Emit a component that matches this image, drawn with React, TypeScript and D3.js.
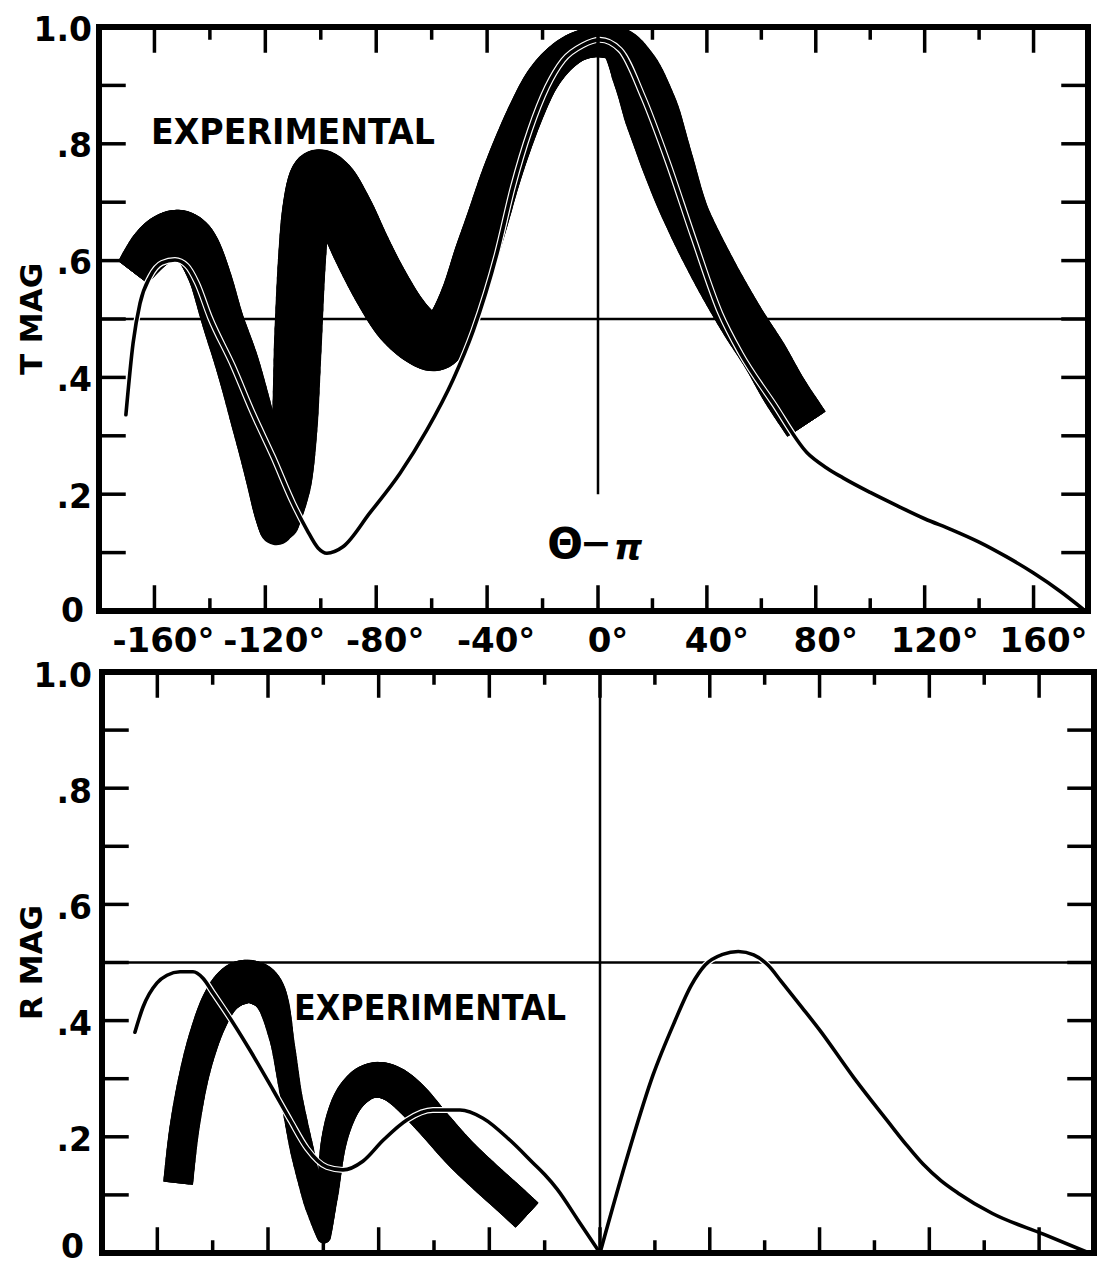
import * as d3 from "d3";

type Pt = [number, number];

// x: Θ − π in degrees, y: magnitude
const degTicks = d3.range(-160, 161, 20);
const degLabels = [-160, -120, -80, -40, 0, 40, 80, 120, 160];
const magTicks = [0.1, 0.2, 0.3, 0.4, 0.5, 0.6, 0.7, 0.8, 0.9];
const magLabels: [number, string][] = [
  [0, "0"],
  [0.2, ".2"],
  [0.4, ".4"],
  [0.6, ".6"],
  [0.8, ".8"],
  [1, "1.0"],
];

// T MAG, theory
const tTheory: Pt[] = [
  [-170.3, 0.336], [-167.7, 0.459], [-165.2, 0.527], [-161.6, 0.572], [-157.3, 0.596],
  [-152.6, 0.601], [-148.3, 0.591], [-144.7, 0.562], [-140.0, 0.503], [-131.7, 0.42],
  [-124.5, 0.339], [-117.2, 0.264], [-110.0, 0.185], [-105.0, 0.139], [-101.0, 0.108],
  [-97.8, 0.099], [-92.0, 0.11], [-82.3, 0.168], [-71.4, 0.236], [-61.7, 0.31],
  [-52.3, 0.396], [-45.0, 0.48], [-36.4, 0.613], [-30.7, 0.726], [-24.5, 0.824],
  [-18.4, 0.897], [-12.6, 0.943], [-5.4, 0.969], [0.7, 0.978], [8.1, 0.961],
  [16.6, 0.88], [25.4, 0.772], [35.0, 0.64], [44.9, 0.51], [52.3, 0.442],
  [64.4, 0.356], [76.8, 0.271], [84, 0.245], [90, 0.228], [100, 0.203], [110, 0.18],
  [120, 0.158], [130, 0.139], [140, 0.118], [150, 0.093], [160, 0.065],
  [170, 0.033], [178, 0.004],
];

// T MAG, experimental band centre line (two strokes, split at the sharp turn)
const tBandA: Pt[] = [
  [-167.7, 0.58], [-161.6, 0.618], [-156.2, 0.639], [-150.8, 0.644], [-145.4, 0.627],
  [-140.2, 0.575], [-135.4, 0.498], [-130.0, 0.421], [-124.6, 0.327], [-120.2, 0.241],
  [-117.6, 0.176], [-116.0, 0.142],
];
const tBandB: Pt[] = [
  [-114.0, 0.151], [-110.8, 0.223], [-109.3, 0.325], [-108.2, 0.464], [-106.8, 0.601],
  [-105.0, 0.695], [-101.7, 0.745], [-96.7, 0.729], [-90.9, 0.678], [-85.1, 0.618],
  [-78.6, 0.558], [-71.4, 0.503], [-64.2, 0.469], [-58.0, 0.457], [-52.7, 0.495],
  [-48.3, 0.546], [-44.0, 0.61], [-39.7, 0.673], [-35.4, 0.738], [-31.0, 0.796],
  [-26.0, 0.854], [-20.6, 0.906], [-14.4, 0.943], [-7.2, 0.967], [0.7, 0.974],
  [8.1, 0.967], [14.4, 0.918], [19.9, 0.849], [25.8, 0.764], [32.4, 0.678],
  [42.0, 0.587], [52.3, 0.502], [61.1, 0.438], [68.4, 0.378], [76.6, 0.32],
];

// R MAG, theory (two arms meeting at 0°)
const rTheoryLeft: Pt[] = [
  [-168.1, 0.38], [-165.2, 0.423], [-160.1, 0.465], [-156.5, 0.478], [-151.8, 0.484],
  [-147.1, 0.484], [-143.5, 0.473], [-139.9, 0.448], [-136.2, 0.422], [-132.6, 0.396],
  [-126.5, 0.349], [-118.2, 0.281], [-112.0, 0.229], [-105.9, 0.18], [-98.7, 0.148],
  [-92.9, 0.143], [-85.7, 0.158], [-78.4, 0.194], [-69.8, 0.229], [-60.4, 0.246],
  [-50.6, 0.246], [-42.3, 0.232], [-32.5, 0.194], [-24.2, 0.155], [-20.0, 0.135],
  [-15.5, 0.11], [-8.0, 0.057], [0, 0],
];
const rTheoryRight: Pt[] = [
  [0, 0], [10.6, 0.176], [19.3, 0.306], [27.0, 0.396], [33.3, 0.461], [38.4, 0.496],
  [44.7, 0.514], [50.4, 0.519], [56.0, 0.513], [61.1, 0.496], [66.1, 0.467], [73.7, 0.422],
  [80.0, 0.384], [92.6, 0.301], [105.3, 0.224], [111.5, 0.187], [117.7, 0.153],
  [124.1, 0.125], [130.5, 0.103], [143.0, 0.068], [161.8, 0.032], [178.2, 0],
];

// R MAG, experimental band centre line
const rBandA: Pt[] = [
  [-152.5, 0.12], [-150.3, 0.212], [-146.7, 0.306], [-142.0, 0.384], [-136.6, 0.439],
  [-130.1, 0.465], [-123.6, 0.463], [-118.5, 0.434], [-114.9, 0.365], [-111.6, 0.27],
  [-107.7, 0.177], [-103.4, 0.091], [-99.8, 0.029],
];
const rBandB: Pt[] = [
  [-99.8, 0.029], [-98.3, 0.108], [-96.1, 0.194], [-91.8, 0.256], [-86.0, 0.289],
  [-80.2, 0.298], [-74.1, 0.289], [-67.6, 0.263], [-59.6, 0.22], [-50.6, 0.172],
  [-41.6, 0.131], [-33.2, 0.095], [-26.4, 0.065],
];

// pen widths (px) along each band stroke
const tBandAWidth = [36, 44, 48, 50, 46, 42, 42, 44, 44, 42, 38, 34];
const tBandBWidth = [
  34, 42, 46, 48, 48, 48, 50, 56, 58, 58, 58, 58, 56, 52, 46, 44, 44, 42, 40, 38,
  36, 34, 32, 30, 30, 36, 50, 56, 52, 46, 46, 46, 46, 46, 46,
];
const rBandAWidth = [30, 30, 30, 32, 36, 44, 42, 32, 24, 22, 24, 22, 14];
const rBandBWidth = [14, 22, 26, 30, 34, 36, 36, 36, 34, 34, 34, 34, 34];

const FONT = "'DejaVu Sans', Verdana, sans-serif";
const STEPS = 8;

type Scale = d3.ScaleLinear<number, number>;
type XY = [number, number];

function catmull(p0: XY, p1: XY, p2: XY, p3: XY, t: number): XY {
  const t2 = t * t, t3 = t2 * t;
  const f = (a: number, b: number, c: number, d: number) =>
    0.5 * (2 * b + (-a + c) * t + (2 * a - 5 * b + 4 * c - d) * t2 + (-a + 3 * b - 3 * c + d) * t3);
  return [f(p0[0], p1[0], p2[0], p3[0]), f(p0[1], p1[1], p2[1], p3[1])];
}

function unit(a: XY, b: XY): XY {
  const dx = b[0] - a[0], dy = b[1] - a[1];
  const l = Math.hypot(dx, dy) || 1;
  return [dx / l, dy / l];
}

// a broad-pen band: many short round-capped strokes following the centre line
function Band({
  id, strokes, widths, x, y,
}: { id: string; strokes: Pt[][]; widths: number[][]; x: Scale; y: Scale }) {
  const segs: { a: XY; b: XY; w: number }[] = [];
  const holes: string[] = [];
  strokes.forEach((s, si) => {
    const P: XY[] = s.map((d) => [x(d[0]), y(d[1])]);
    const W = widths[si];
    const n = P.length;
    for (let i = 0; i < n - 1; i++) {
      const p0 = P[Math.max(i - 1, 0)], p1 = P[i], p2 = P[i + 1], p3 = P[Math.min(i + 2, n - 1)];
      let prev = p1;
      for (let k = 1; k <= STEPS; k++) {
        const t = k / STEPS;
        const pt = catmull(p0, p1, p2, p3, t);
        const w = W[i] + (W[i + 1] - W[i]) * (t - 0.5 / STEPS);
        segs.push({ a: prev, b: pt, w });
        prev = pt;
      }
    }
    // square off the free ends of the band
    const ends: [XY, XY, number][] = [];
    if (si === 0) ends.push([P[0], unit(P[1], P[0]), W[0]]);
    if (si === strokes.length - 1) ends.push([P[n - 1], unit(P[n - 2], P[n - 1]), W[n - 1]]);
    ends.forEach(([e, t, w]) => {
      const nx = -t[1], ny = t[0], r = w + 6;
      const c = [
        [e[0] + nx * r, e[1] + ny * r],
        [e[0] + nx * r + t[0] * r, e[1] + ny * r + t[1] * r],
        [e[0] - nx * r + t[0] * r, e[1] - ny * r + t[1] * r],
        [e[0] - nx * r, e[1] - ny * r],
      ];
      holes.push("M" + c.map((q) => q.join(",")).join("L") + "Z");
    });
  });
  return (
    <g>
      <defs>
        <clipPath id={id}>
          <path d={"M-10,-10H1200V1300H-10Z" + holes.join("")} clipRule="evenodd" />
        </clipPath>
      </defs>
      <g clipPath={`url(#${id})`} stroke="#000" strokeLinecap="round">
        {segs.map((s, i) => (
          <line key={i} x1={s.a[0]} y1={s.a[1]} x2={s.b[0]} y2={s.b[1]} strokeWidth={s.w} />
        ))}
      </g>
    </g>
  );
}

function Theory({ series, x, y }: { series: Pt[][]; x: Scale; y: Scale }) {
  const line = d3
    .line<Pt>()
    .x((d) => x(d[0]))
    .y((d) => y(d[1]))
    .curve(d3.curveMonotoneX);
  return (
    <g fill="none" strokeLinecap="round" strokeLinejoin="round">
      {series.map((s, i) => (
        <path key={"c" + i} d={line(s) ?? ""} stroke="#fff" strokeWidth={6} />
      ))}
      {series.map((s, i) => (
        <path key={"l" + i} d={line(s) ?? ""} stroke="#000" strokeWidth={3.6} />
      ))}
    </g>
  );
}

function Frame({ x, y }: { x: Scale; y: Scale }) {
  const x0 = x(-180), x1 = x(180), y0 = y(0), y1 = y(1);
  return (
    <g stroke="#000" strokeLinecap="square">
      {degTicks.map((t) => {
        const len = t % 40 === 0 ? 24 : 11;
        return (
          <g key={t} strokeWidth={3.5}>
            <line x1={x(t)} x2={x(t)} y1={y0} y2={y0 - len} />
            <line x1={x(t)} x2={x(t)} y1={y1} y2={y1 + len} />
          </g>
        );
      })}
      {magTicks.map((v) => (
        <g key={v} strokeWidth={3.5}>
          <line x1={x0} x2={x0 + 25} y1={y(v)} y2={y(v)} />
          <line x1={x1} x2={x1 - 25} y1={y(v)} y2={y(v)} />
        </g>
      ))}
      <rect x={x0} y={y1} width={x1 - x0} height={y0 - y1} fill="none" strokeWidth={6} />
    </g>
  );
}

function MagLabels({ y, dy, zeroY }: { y: Scale; dy: number; zeroY: number }) {
  return (
    <g fontFamily={FONT} fontWeight="bold" fontSize={33} textAnchor="end">
      {magLabels.map(([v, s]) => (
        <text
          key={s}
          x={v === 0 ? 84 : 92}
          y={v === 0 ? zeroY : y(v) + dy}
          dominantBaseline="central"
        >
          {s}
        </text>
      ))}
    </g>
  );
}

export default function App() {
  const xT = d3.scaleLinear().domain([-180, 0, 180]).range([99, 598, 1088]);
  const yT = d3.scaleLinear().domain([0, 1]).range([611, 27]);
  const xR = d3.scaleLinear().domain([-180, 0, 180]).range([102, 600, 1094]);
  const yR = d3.scaleLinear().domain([0, 1]).range([1253, 672]);

  return (
    <svg
      width={1109}
      height={1267}
      viewBox="0 0 1109 1267"
      style={{ position: "absolute", left: 0, top: 0, background: "#fff" }}
    >
      <rect width={1109} height={1267} fill="#fff" />

      {/* top panel: T MAG */}
      <g stroke="#000" strokeWidth={2.5}>
        <line x1={xT(-180)} x2={xT(180)} y1={yT(0.5)} y2={yT(0.5)} />
        <line x1={xT(0)} x2={xT(0)} y1={yT(1)} y2={yT(0.2)} />
      </g>
      <Band id="bandT" strokes={[tBandA, tBandB]} widths={[tBandAWidth, tBandBWidth]} x={xT} y={yT} />
      <Theory series={[tTheory]} x={xT} y={yT} />
      <Frame x={xT} y={yT} />

      {/* bottom panel: R MAG */}
      <g stroke="#000" strokeWidth={2.5}>
        <line x1={xR(-180)} x2={xR(180)} y1={yR(0.5)} y2={yR(0.5)} />
        <line x1={xR(0)} x2={xR(0)} y1={yR(1)} y2={yR(0)} />
      </g>
      <Band id="bandR" strokes={[rBandA, rBandB]} widths={[rBandAWidth, rBandBWidth]} x={xR} y={yR} />
      <Theory series={[rTheoryLeft, rTheoryRight]} x={xR} y={yR} />
      <Frame x={xR} y={yR} />

      {/* labels */}
      <MagLabels y={yT} dy={2} zeroY={610} />
      <MagLabels y={yR} dy={3} zeroY={1246} />

      <g fontFamily={FONT} fontWeight="bold" fontSize={34} textAnchor="middle">
        {degLabels.map((t) => (
          <text key={t} x={xT(t) + (t < 0 ? 9 : 10)} y={652}>
            {t < 0 ? `-${-t}°` : `${t}°`}
          </text>
        ))}
      </g>

      <g fontFamily={FONT} fontWeight="bold" fontSize={31} textAnchor="middle">
        <text transform={`translate(42,${yT(0.5)}) rotate(-90)`}>T MAG</text>
        <text transform={`translate(42,${yR(0.5)}) rotate(-90)`}>R MAG</text>
      </g>

      <g fontFamily={FONT} fontWeight="bold" fontSize={35}>
        <text x={151} y={144} textLength={284} lengthAdjust="spacingAndGlyphs">
          EXPERIMENTAL
        </text>
        <text x={294} y={1020} textLength={272} lengthAdjust="spacingAndGlyphs">
          EXPERIMENTAL
        </text>
      </g>

      <g fontFamily={FONT} fontWeight="bold" dominantBaseline="central" textAnchor="middle">
        <text x={565} y={543} fontSize={42}>
          Θ
        </text>
        <text x={596} y={543} fontSize={38}>
          −
        </text>
        <text x={628} y={547} fontSize={36} fontStyle="italic">
          π
        </text>
      </g>
    </svg>
  );
}
